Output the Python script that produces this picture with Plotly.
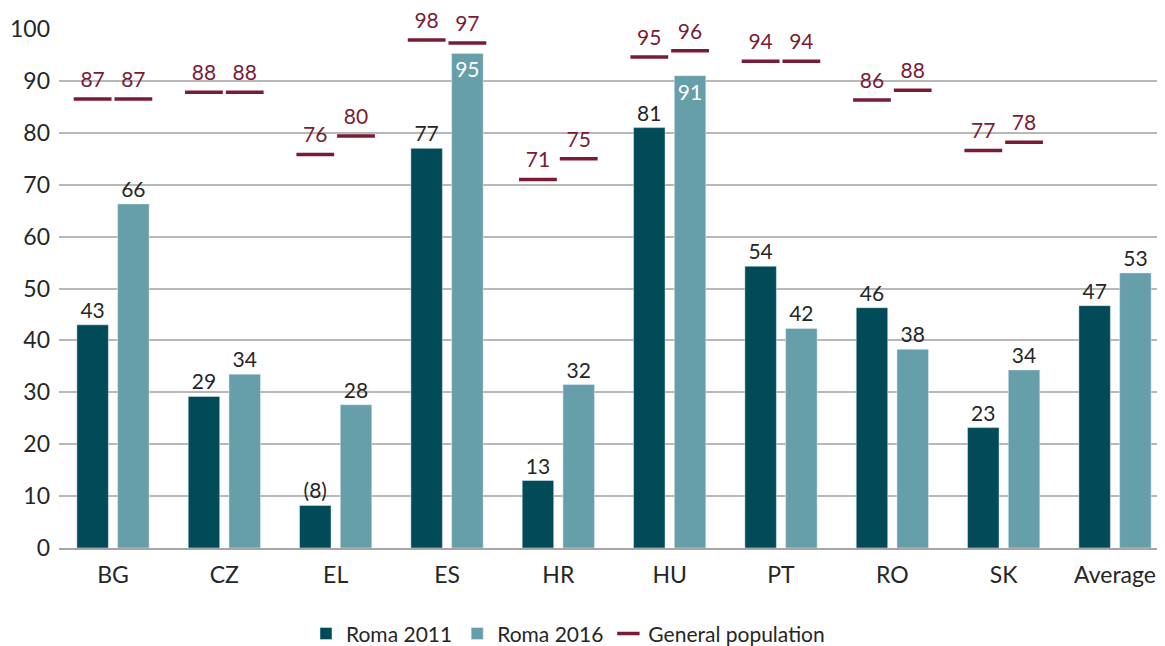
import plotly.graph_objects as go

categories = ["BG", "CZ", "EL", "ES", "HR", "HU", "PT", "RO", "SK", "Average"]
roma_2011 = [43.0, 29.2, 8.2, 77.0, 13.0, 81.0, 54.3, 46.3, 23.2, 46.7]
roma_2016 = [66.3, 33.5, 27.6, 95.3, 31.5, 91.0, 42.3, 38.3, 34.3, 53.0]
roma_2011_labels = ["43", "29", "(8)", "77", "13", "81", "54", "46", "23", "47"]
roma_2016_labels = ["66", "34", "28", "95", "32", "91", "42", "38", "34", "53"]
genpop_2011 = [86.5, 87.8, 75.8, 97.9, 71.0, 94.6, 93.8, 86.3, 76.6, None]
genpop_2016 = [86.5, 87.8, 79.4, 97.3, 75.0, 95.8, 93.8, 88.2, 78.2, None]
genpop_2011_labels = ["87", "88", "76", "98", "71", "95", "94", "86", "77", ""]
genpop_2016_labels = ["87", "88", "80", "97", "75", "96", "94", "88", "78", ""]

C_2011 = "#004b57"
C_2016 = "#669ea9"
C_GEN = "#7a1b35"
FONT = "Lato"
TEXT_C = "#262626"
LABEL_SIZE = 21

BARGAP = 0.268
BARGROUPGAP = 0.227
idx = list(range(len(categories)))
off = (1 - BARGAP) / 4

def pos_for(vals):
    return ["inside" if v > 88 else "outside" for v in vals]

fig = go.Figure()
for vals, labels, name, col in [(roma_2011, roma_2011_labels, "Roma 2011", C_2011),
                                (roma_2016, roma_2016_labels, "Roma 2016", C_2016)]:
    fig.add_trace(go.Bar(
        x=idx, y=vals, name=name, marker_color=col,
        text=labels, textposition=pos_for(vals),
        insidetextanchor="end", cliponaxis=False,
        outsidetextfont=dict(color=TEXT_C, size=LABEL_SIZE, family=FONT),
        insidetextfont=dict(color="white", size=LABEL_SIZE, family=FONT),
        textangle=0, hoverinfo="skip",
    ))

x_g1 = [i - off for i in idx]
x_g2 = [i + off for i in idx]
fig.add_trace(go.Scatter(
    x=x_g1 + [None] + x_g2, y=genpop_2011 + [None] + genpop_2016,
    mode="markers", name="General population",
    marker=dict(symbol="line-ew", size=27, color=C_GEN,
                line=dict(color=C_GEN, width=3.5)),
    cliponaxis=False, hoverinfo="skip",
))
fig.add_trace(go.Scatter(
    x=x_g1 + x_g2, y=genpop_2011 + genpop_2016,
    text=genpop_2011_labels + genpop_2016_labels,
    mode="markers+text", textposition="top center",
    marker=dict(size=9.5, color="rgba(0,0,0,0)"),
    textfont=dict(color=C_GEN, size=LABEL_SIZE, family=FONT),
    showlegend=False, cliponaxis=False, hoverinfo="skip",
))

fig.update_layout(
    width=1157, height=638,
    margin=dict(l=51, r=0, t=21, b=98, autoexpand=False),
    paper_bgcolor="white", plot_bgcolor="white",
    barmode="group", bargap=BARGAP, bargroupgap=BARGROUPGAP,
    font=dict(family=FONT, size=22, color=TEXT_C),
    showlegend=True,
    legend=dict(orientation="h", xref="container", yref="container",
                x=0.484, xanchor="center", y=0.019, yanchor="middle",
                font=dict(size=21, family=FONT, color=TEXT_C),
                itemwidth=30, traceorder="normal"),
)
fig.update_xaxes(
    tickmode="array", tickvals=idx, ticktext=categories,
    range=[-0.485, 9.449], showgrid=False, zeroline=False,
    showline=True, linecolor="#a6a6a6", linewidth=2,
    ticks="", ticklabelstandoff=5, automargin=False,
    tickfont=dict(size=23, family=FONT, color=TEXT_C),
)
fig.update_yaxes(
    range=[0, 100], dtick=10, showgrid=True, gridcolor="#b8b8b8", gridwidth=1.5,
    zeroline=False, showline=False, ticks="", ticklabelstandoff=8, automargin=False,
    tickfont=dict(size=23, family=FONT, color=TEXT_C),
)

fig.write_html("out.html")
